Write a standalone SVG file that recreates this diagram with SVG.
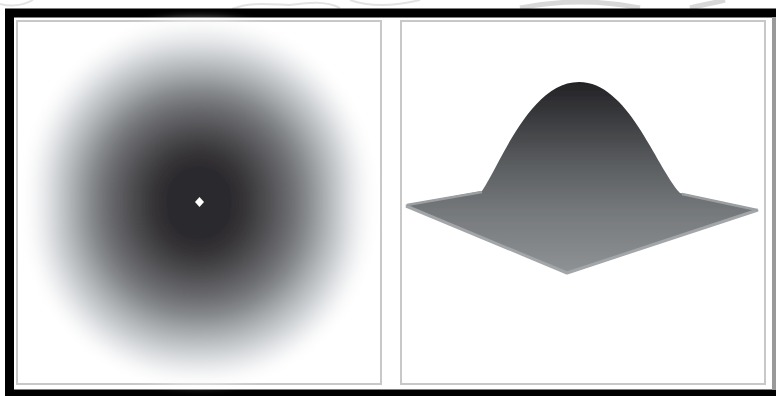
<svg xmlns="http://www.w3.org/2000/svg" width="776" height="396" viewBox="0 0 776 396">
<defs>
<linearGradient id="hill" gradientUnits="userSpaceOnUse" x1="0" y1="82" x2="0" y2="275">
<stop offset="0" stop-color="#232325"/>
<stop offset="0.2" stop-color="#3c3d40"/>
<stop offset="0.45" stop-color="#5d6063"/>
<stop offset="0.7" stop-color="#787b7e"/>
<stop offset="1" stop-color="#909396"/>
</linearGradient>
<filter id="soft" x="-5%" y="-5%" width="110%" height="110%"><feGaussianBlur stdDeviation="0.7"/></filter>
<filter id="dot" x="-50%" y="-50%" width="200%" height="200%"><feGaussianBlur stdDeviation="0.5"/></filter>
<filter id="fade" x="-15%" y="-15%" width="130%" height="130%"><feGaussianBlur stdDeviation="6"/></filter>
</defs>
<style>
.panel{fill:#fff;stroke:#c8c8c8;stroke-width:2}
.sketch{fill:none;stroke:#e2e2e2;stroke-width:2}
</style>
<rect width="776" height="396" fill="#fff"/>
<g id="sketch">
<path class="sketch" d="M0 4C12 7 24 5 33 0M232 9C250 2 265 4 290 5C305 3 325 0 340 8M350 0C372 8 395 6 420 0"/>
<path d="M520 8C560 0 600 0 640 8M690 8C700 5 715 3 725 0" fill="none" stroke="#d8d8d8" stroke-width="5"/>
</g>
<g id="frame">
<rect x="9.500" y="13" width="770" height="381" fill="#fff" stroke="#000" stroke-width="9"/>
<rect x="772" y="17" width="4" height="373" fill="#999"/>
</g>
<g id="left-panel">
<rect class="panel" x="17" y="21" width="364" height="363"/>
<g filter="url(#fade)">
<rect x="28" y="22" width="342" height="360" rx="165" fill="#fafafb"/>
<rect x="35" y="29" width="328" height="346" rx="158" fill="#f1f2f3"/>
<rect x="42" y="37" width="314" height="332" rx="150" fill="#e4e6e8"/>
<rect x="50" y="46" width="298" height="314" rx="142" fill="#d3d6d9"/>
<rect x="59" y="56" width="280" height="294" rx="134" fill="#bfc2c5"/>
<rect x="69" y="67" width="260" height="272" rx="126" fill="#a8acaf"/>
<rect x="80" y="79" width="238" height="248" rx="116" fill="#919497"/>
<rect x="91" y="90" width="216" height="226" rx="106" fill="#7d7f82"/>
<rect x="102" y="102" width="194" height="202" rx="95" fill="#6b6c70"/>
<rect x="114" y="114" width="170" height="178" rx="84" fill="#5c5c60"/>
<rect x="126" y="126" width="146" height="154" rx="72" fill="#4d4d50"/>
<rect x="138" y="137" width="122" height="132" rx="60" fill="#403f42"/>
<rect x="149" y="148" width="100" height="110" rx="50" fill="#343336"/>
<rect x="162" y="161" width="74" height="84" rx="37" fill="#2c2b2d"/>
</g>
<path d="M199.500 197L204 202L199.500 207L195 202Z" fill="#fff" filter="url(#dot)"/>
</g>
<g id="right-panel">
<rect class="panel" x="401" y="21" width="364" height="363"/>
<path d="M405 205L482 191C500 165 530 82 579 82C628 82 655 165 680 193L759 210L567 274Z" fill="url(#hill)" filter="url(#soft)"/>
<path d="M406 206L567 273L758 210" fill="none" stroke="#a3a6a8" stroke-width="3" stroke-linejoin="round" filter="url(#soft)"/>
<path d="M407 205L482 192M682 194L757 210" fill="none" stroke="#9c9fa1" stroke-width="2.500" filter="url(#soft)"/>
</g>
<g id="connectors"/>
</svg>
